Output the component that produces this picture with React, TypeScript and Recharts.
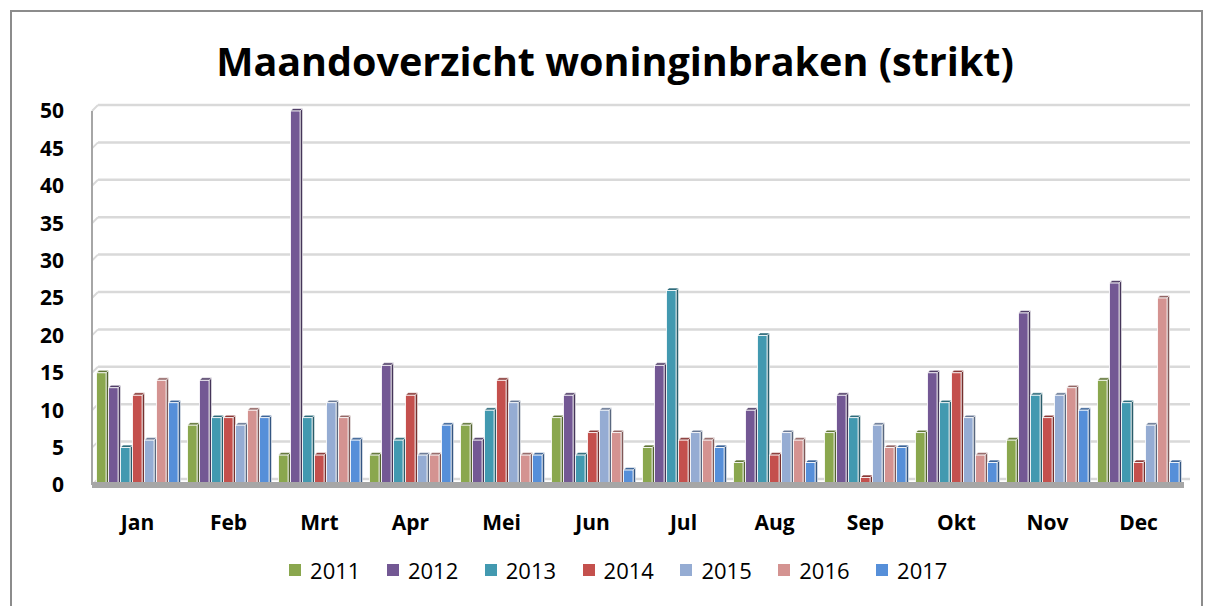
import React from "react";
import { BarChart, Bar, XAxis, YAxis, CartesianGrid, Legend } from "recharts";

const months = ["Jan", "Feb", "Mrt", "Apr", "Mei", "Jun", "Jul", "Aug", "Sep", "Okt", "Nov", "Dec"];
const y2011 = [15, 8, 4, 4, 8, 9, 5, 3, 7, 7, 6, 14];
const y2012 = [13, 14, 50, 16, 6, 12, 16, 10, 12, 15, 23, 27];
const y2013 = [5, 9, 9, 6, 10, 4, 26, 20, 9, 11, 12, 11];
const y2014 = [12, 9, 4, 12, 14, 7, 6, 4, 1, 15, 9, 3];
const y2015 = [6, 8, 11, 4, 11, 10, 7, 7, 8, 9, 12, 8];
const y2016 = [14, 10, 9, 4, 4, 7, 6, 6, 5, 4, 13, 25];
const y2017 = [11, 9, 6, 8, 4, 2, 5, 3, 5, 3, 10, 3];
const yTicks = [0, 5, 10, 15, 20, 25, 30, 35, 40, 45, 50];

const seriesNames = ["2011", "2012", "2013", "2014", "2015", "2016", "2017"];
const seriesValues = [y2011, y2012, y2013, y2014, y2015, y2016, y2017];
const colors = ["#8AA74E", "#735894", "#4299B0", "#C4504D", "#95ACD3", "#D49391", "#568FD9"];

const data = months.map((m, i) => {
  const row: Record<string, any> = { month: m };
  seriesNames.forEach((s, k) => {
    row[s] = seriesValues[k][i];
  });
  return row;
});

function shade(hex: string, f: number) {
  const n = parseInt(hex.slice(1), 16);
  const r = Math.round(((n >> 16) & 255) * f);
  const g = Math.round(((n >> 8) & 255) * f);
  const b = Math.round((n & 255) * f);
  return `rgb(${r},${g},${b})`;
}

const makeShape = (color: string) => (props: any) => {
  const { x, y, width, height } = props;
  if (height == null || width == null) return <g />;
  const d = 2.5;
  const fw = Math.max(width - d, 1);
  return (
    <g>
      <polygon
        points={`${x + fw},${y} ${x + fw + d},${y - d} ${x + fw + d},${y + height - d} ${x + fw},${y + height}`}
        fill={shade(color, 0.6)}
        stroke="#fff"
        strokeWidth={0.6}
      />
      <polygon
        points={`${x},${y} ${x + d},${y - d} ${x + fw + d},${y - d} ${x + fw},${y}`}
        fill={shade(color, 0.7)}
        stroke="#fff"
        strokeWidth={0.6}
      />
      <rect x={x} y={y} width={fw} height={height} fill={color} stroke="#fff" strokeWidth={0.8} />
    </g>
  );
};

const gridLine = (props: any) => {
  const { x1, y1, x2, key } = props;
  const d = 6;
  return (
    <g key={key}>
      <line x1={x1} y1={y1} x2={x1 + d} y2={y1 - d} stroke="#d9d9d9" strokeWidth={2} />
      <line x1={x1 + d} y1={y1 - d} x2={x2 + d} y2={y1 - d} stroke="#d9d9d9" strokeWidth={2.5} />
    </g>
  );
};

const renderLegend = () => (
  <div
    style={{
      display: "flex",
      justifyContent: "center",
      paddingLeft: 47,
      fontFamily: "'Open Sans', sans-serif",
      fontSize: 22,
      color: "#000",
      height: 30,
      alignItems: "center",
    }}
  >
    {seriesNames.map((s, i) => (
      <div key={s} style={{ display: "flex", alignItems: "center", marginRight: 26.5 }}>
        <span style={{ display: "inline-block", width: 12, height: 12, background: colors[i], marginRight: 9 }} />
        <span>{s}</span>
      </div>
    ))}
  </div>
);

export default function App() {
  return (
    <div style={{ position: "relative", width: 1200, height: 598, background: "#fff" }}>
      <div
        style={{
          position: "absolute",
          left: 2,
          top: 2,
          width: 1193,
          height: 596,
          borderTop: "2px solid #8c8c8c",
          borderLeft: "2px solid #8c8c8c",
          borderRight: "2px solid #8c8c8c",
          boxSizing: "border-box",
        }}
      />
      <div
        style={{
          position: "absolute",
          left: 0,
          width: 1214,
          top: 34,
          textAlign: "center",
          fontFamily: "'Open Sans', sans-serif",
          fontWeight: 700,
          fontSize: 39.5,
          lineHeight: 1,
          color: "#000",
        }}
      >
        Maandoverzicht woninginbraken (strikt)
      </div>
      <BarChart
        width={1200}
        height={598}
        data={data}
        margin={{ top: 103, right: 24, left: 24, bottom: 21 }}
        barCategoryGap="5%"
        barGap={0}
        style={{ position: "absolute", left: 0, top: 0 }}
      >
        <CartesianGrid vertical={false} horizontal={gridLine} />
        <XAxis
          dataKey="month"
          height={70}
          tickLine={false}
          tickMargin={24}
          axisLine={{ stroke: "#a6a6a6", strokeWidth: 6 }}
          tick={{ fontSize: 21, fontWeight: 700, fill: "#000", fontFamily: "'Open Sans', sans-serif" }}
        />
        <YAxis
          width={60}
          domain={[0, 50]}
          ticks={yTicks}
          interval={0}
          tickLine={false}
          tickMargin={22}
          axisLine={{ stroke: "#a6a6a6", strokeWidth: 2 }}
          tick={{ fontSize: 21, fontWeight: 700, fill: "#000", fontFamily: "'Open Sans', sans-serif" }}
        />
        <Legend verticalAlign="bottom" height={30} content={renderLegend} />
        {seriesNames.map((s, i) => (
          <Bar key={s} dataKey={s} fill={colors[i]} isAnimationActive={false} shape={makeShape(colors[i])} />
        ))}
      </BarChart>
    </div>
  );
}
